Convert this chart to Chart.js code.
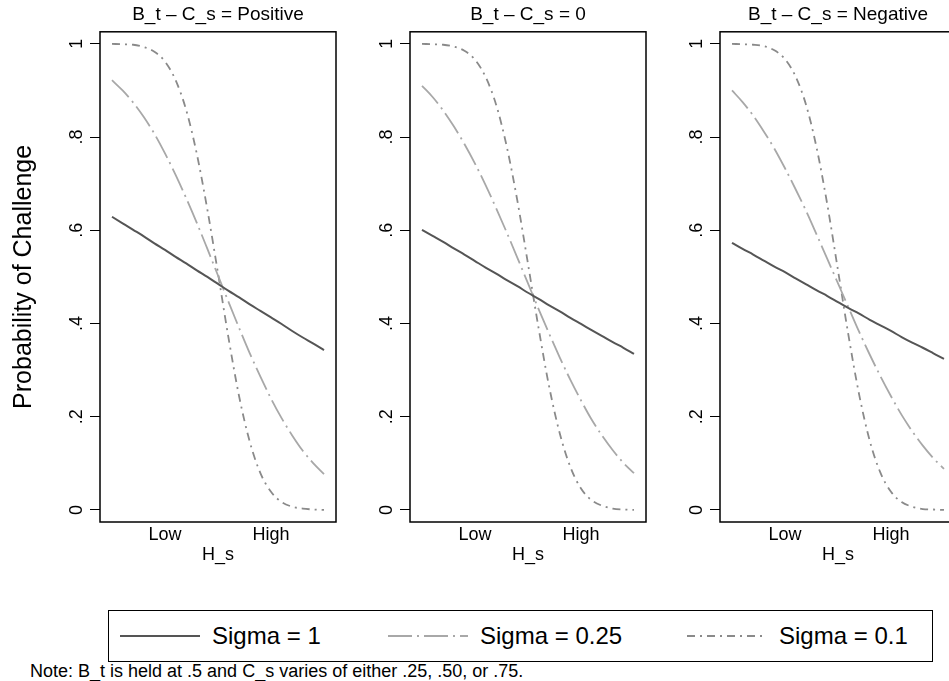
<!DOCTYPE html>
<html>
<head>
<meta charset="utf-8">
<script src="https://cdn.jsdelivr.net/npm/chart.js@4.4.1/dist/chart.umd.min.js"></script>
<style>
  body { margin: 0; width: 949px; height: 681px; overflow: hidden; background: #fff; position: relative;
         font-family: "Liberation Sans", Arial, sans-serif; color: #000; }
  canvas { position: absolute; top: 0; }
  #legend { position: absolute; left: 108px; top: 610px; width: 825px; height: 52px; border: 1px solid #000; box-sizing: border-box; }
  .item { position: absolute; top: 0; height: 50px; display: flex; align-items: center; font-size: 24px; white-space: nowrap; }
  .item svg { margin-right: 12px; }
  #note { position: absolute; left: 30px; top: 661px; font-size: 18px; line-height: 20px; white-space: nowrap; }
</style>
</head>
<body>
<canvas id="p1" width="345" height="570" style="left:0px"></canvas>
<canvas id="p2" width="315" height="570" style="left:340px"></canvas>
<canvas id="p3" width="315" height="570" style="left:650px"></canvas>
<div id="legend"></div>
<div id="note">Note: B_t is held at .5 and C_s varies of either .25, .50, or .75.</div>
<script>
// H_s runs from 0 (lowest) to 1 (highest) along each panel
const hPoints = [0, 0.05, 0.1, 0.15, 0.2, 0.25, 0.3, 0.35, 0.4, 0.45, 0.5, 0.55, 0.6, 0.65, 0.7, 0.75, 0.8, 0.85, 0.9, 0.95, 1];

const panelTitles = ['B_t \u2013 C_s = Positive', 'B_t \u2013 C_s = 0', 'B_t \u2013 C_s = Negative'];

const positiveSigma1 = [.629, .615, .601, .587, .572, .558, .543, .529, .514, .500, .485, .470, .456, .441, .427, .413, .399, .384, .370, .357, .343];
const positiveSigma025 = [.922, .900, .874, .843, .807, .765, .719, .669, .616, .560, .503, .446, .390, .336, .286, .239, .197, .160, .127, .100, .077];
const positiveSigma01 = [1.000, .999, .998, .993, .983, .962, .922, .858, .764, .644, .508, .368, .243, .146, .079, .039, .017, .007, .003, .001, .000];

const zeroSigma1 = [.601, .588, .575, .561, .548, .534, .520, .507, .493, .480, .466, .453, .439, .426, .412, .399, .386, .373, .360, .348, .335];
const zeroSigma025 = [.910, .886, .857, .823, .785, .743, .697, .647, .595, .541, .486, .431, .378, .327, .279, .235, .194, .159, .128, .101, .079];
const zeroSigma01 = [1.000, .999, .998, .994, .985, .966, .929, .869, .779, .663, .528, .390, .264, .164, .092, .046, .021, .009, .003, .001, .000];

const negativeSigma1 = [.573, .560, .548, .535, .522, .510, .497, .484, .471, .459, .446, .433, .421, .408, .396, .384, .371, .359, .348, .336, .324];
const negativeSigma025 = [.900, .875, .846, .812, .775, .733, .688, .641, .590, .538, .486, .434, .382, .333, .287, .244, .204, .169, .138, .111, .088];
const negativeSigma01 = [1.000, .999, .998, .995, .986, .967, .930, .868, .775, .654, .514, .373, .247, .148, .080, .039, .017, .007, .002, .001, .000];

const seriesNames = ['Sigma = 1', 'Sigma = 0.25', 'Sigma = 0.1'];
const seriesColors = ['#555555', '#a8a8a8', '#8a8a8a'];
const seriesDash = [[], [24, 5, 2, 5], [8, 5, 2, 5]];

const xTickValues = [0.25, 0.75];
const xTickLabels = ['Low', 'High'];
const yTickValues = [0, 0.2, 0.4, 0.6, 0.8, 1];
const yTickLabels = ['0', '.2', '.4', '.6', '.8', '1'];

const FONT = '"Liberation Sans", Arial, sans-serif';

// outer frame around the plot region
const frame = {
  id: 'frame',
  afterDatasetsDraw(chart) {
    const { ctx, chartArea: a } = chart;
    ctx.save();
    ctx.strokeStyle = '#000';
    ctx.lineWidth = 1.5;
    ctx.strokeRect(a.left, a.top, a.right - a.left, a.bottom - a.top);
    ctx.restore();
  }
};

function makePanel(id, title, series, yAxisWidth, showYTitle) {
  new Chart(document.getElementById(id), {
    type: 'line',
    data: {
      datasets: series.map((vals, i) => ({
        label: seriesNames[i],
        data: hPoints.map((h, j) => ({ x: h, y: vals[j] })),
        borderColor: seriesColors[i],
        borderDash: seriesDash[i],
        borderWidth: i === 0 ? 2 : 1.8,
        pointRadius: 0,
        fill: false,
        cubicInterpolationMode: 'monotone'
      }))
    },
    options: {
      responsive: false,
      animation: false,
      layout: { padding: { right: 9 } },
      plugins: {
        legend: { display: false },
        tooltip: { enabled: false },
        title: {
          display: true,
          text: title,
          fullSize: false,
          color: '#000',
          font: { family: FONT, size: 19, weight: 'normal' },
          padding: { top: 3, bottom: 6 }
        }
      },
      scales: {
        x: {
          type: 'linear',
          min: -0.0566,
          max: 1.0566,
          afterBuildTicks: (s) => { s.ticks = xTickValues.map((v) => ({ value: v })); },
          afterFit: (s) => { s.height = 48; },
          grid: { display: false, drawTicks: false },
          border: { display: false },
          ticks: {
            padding: 2,
            color: '#000',
            font: { family: FONT, size: 18 },
            callback: (v, i) => xTickLabels[i]
          },
          title: {
            display: true,
            text: 'H_s',
            color: '#000',
            font: { family: FONT, size: 18 },
            padding: { top: 0, bottom: 4 }
          }
        },
        y: {
          min: -0.0258,
          max: 1.0258,
          afterBuildTicks: (s) => { s.ticks = yTickValues.map((v) => ({ value: v })); },
          afterFit: (s) => { s.width = yAxisWidth; },
          grid: { drawOnChartArea: false, drawTicks: true, tickLength: 10, tickColor: '#000', tickWidth: 1 },
          border: { display: false },
          ticks: {
            minRotation: 90,
            maxRotation: 90,
            crossAlign: 'center',
            padding: 5,
            color: '#000',
            font: { family: FONT, size: 18 },
            callback: (v, i) => yTickLabels[i]
          },
          title: {
            display: showYTitle,
            text: 'Probability of Challenge',
            color: '#000',
            font: { family: FONT, size: 25 },
            padding: { top: 9, bottom: 0 }
          }
        }
      }
    },
    plugins: [frame]
  });
}

makePanel('p1', panelTitles[0], [positiveSigma1, positiveSigma025, positiveSigma01], 100, true);
makePanel('p2', panelTitles[1], [zeroSigma1, zeroSigma025, zeroSigma01], 70, false);
makePanel('p3', panelTitles[2], [negativeSigma1, negativeSigma025, negativeSigma01], 70, false);

// shared legend under the three panels (item left offsets inside the box)
const legendLefts = [11, 279, 578];
const legend = document.getElementById('legend');
seriesNames.forEach((name, i) => {
  const item = document.createElement('div');
  item.className = 'item';
  item.style.left = legendLefts[i] + 'px';
  const dash = seriesDash[i].length ? ` stroke-dasharray="${seriesDash[i].join(',')}"` : '';
  item.innerHTML = `<svg width="80" height="10"><line x1="0" y1="5" x2="80" y2="5" stroke="${seriesColors[i]}" stroke-width="2"${dash}/></svg><span>${name}</span>`;
  legend.appendChild(item);
});
</script>
</body>
</html>
